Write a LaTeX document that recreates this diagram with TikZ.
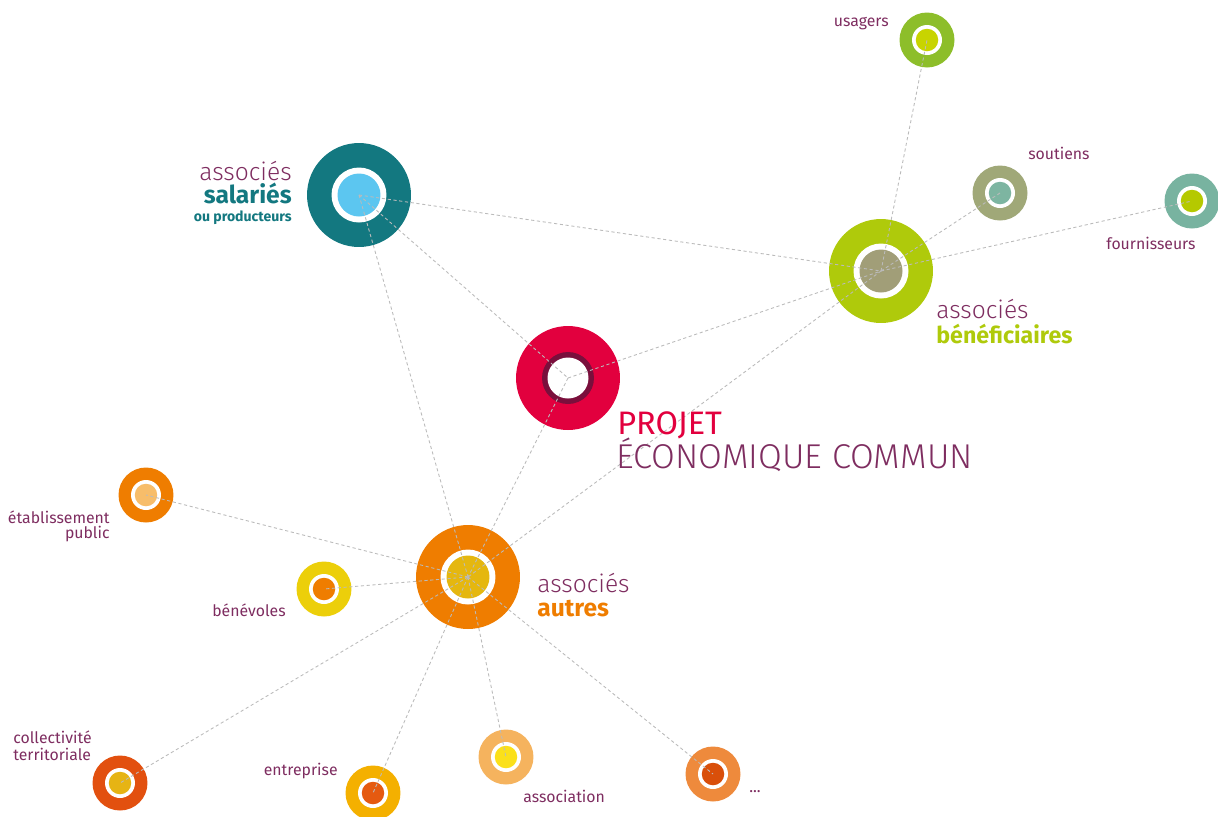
\documentclass[tikz,border=0pt]{standalone}
\usepackage{fontspec}
\setmainfont{Fira Sans}
\IfFontExistsTF{Fira Sans Light}{\newfontfamily\fin{Fira Sans Light}}{\newfontfamily\fin{Fira Sans}}
\definecolor{prune}{HTML}{7E2D60}
\definecolor{tealfonce}{HTML}{137880}
\definecolor{bleuciel}{HTML}{5CC6F0}
\definecolor{rouge}{HTML}{E2003E}
\definecolor{bordeaux}{HTML}{7A0F3C}
\definecolor{vertlime}{HTML}{AFCA0B}
\definecolor{olivegris}{HTML}{A19E78}
\definecolor{orangevif}{HTML}{EF7D00}
\definecolor{ocre}{HTML}{E5B70F}
\definecolor{vertpre}{HTML}{8DBE2A}
\definecolor{jaunevert}{HTML}{C8D400}
\definecolor{olivepale}{HTML}{A0A878}
\definecolor{vertdeau}{HTML}{7DB5A1}
\definecolor{vertmer}{HTML}{78B3A0}
\definecolor{jaunevert2}{HTML}{B5C900}
\definecolor{orangeclair}{HTML}{F7BD6A}
\definecolor{jaune}{HTML}{ECCF0A}
\definecolor{rougeorange}{HTML}{E2500F}
\definecolor{ocre2}{HTML}{E6B414}
\definecolor{jauneor}{HTML}{F4B000}
\definecolor{orangerouge}{HTML}{E55A10}
\definecolor{orangepale}{HTML}{F5B35E}
\definecolor{jaunevif}{HTML}{FBE01A}
\definecolor{orangemoyen}{HTML}{EE8A3C}
\definecolor{orangefonce}{HTML}{D94F0A}
\definecolor{trait}{HTML}{BBBBBB}

\begin{document}
\begin{tikzpicture}[x=0.02cm, y=-0.02cm,
    bulle/.style={circle, inner sep=0pt, outer sep=0pt, minimum size=#1},
    lien/.style={trait, line width=0.5pt, dash pattern=on 1.8pt off 1.5pt},
    etiq/.style={text=prune, inner sep=0pt, font=\fontsize{9}{10}\selectfont}]
        \useasboundingbox (0,0) rectangle (1218,816);

        % Grands cercles
        \foreach \nom/\px/\py/\co/\ci in {salaries/359/195/tealfonce/bleuciel, benef/881/271/vertlime/olivegris, autres/468/577/orangevif/ocre}{
            \node[bulle=2.08cm, fill=\co] (\nom) at (\px,\py) {};
            \node[bulle=1.1cm, fill=white] at (\px,\py) {};
            \node[bulle=0.86cm, fill=\ci] at (\px,\py) {};
        }

        % Projet
        \node[bulle=2.08cm, fill=rouge] (projet) at (568,378) {};
        \node[bulle=1.04cm, fill=bordeaux] at (568,378) {};
        \node[bulle=0.82cm, fill=white] at (568,378) {};

        % Petits cercles
        \foreach \nom/\px/\py/\co/\ci in {usagers/927/40/vertpre/jaunevert, soutiens/1000/193/olivepale/vertdeau, fourn/1192/201/vertmer/jaunevert2, etab/146/495/orangevif/orangeclair, benev/324/589/jaune/orangevif, collect/120/783/rougeorange/ocre2, entrep/373/793/jauneor/orangerouge, assoc/506/757/orangepale/jaunevif, suite/713/774/orangemoyen/orangefonce}{
            \node[bulle=1.1cm, fill=\co] (\nom) at (\px,\py) {};
            \node[bulle=0.6cm, fill=white] at (\px,\py) {};
            \node[bulle=0.45cm, fill=\ci] at (\px,\py) {};
        }

        % Liens
        \foreach \a/\b in {salaries/benef, salaries/projet, salaries/autres, projet/benef, projet/autres, benef/usagers, benef/soutiens, benef/fourn, benef/autres, autres/etab, autres/benev, autres/collect, autres/entrep, autres/assoc, autres/suite}
            \draw[lien] (\a.center) -- (\b.center);

        % Textes
        \node[etiq, anchor=base east, font=\fin\fontsize{14}{16}\selectfont] (tsal1) at (292,180) {associés};
        \node[etiq, anchor=base east, text=tealfonce, font=\bfseries\fontsize{14}{16}\selectfont] (tsal2) at (292,203) {salariés};
        \node[etiq, anchor=base east, text=tealfonce, font=\bfseries\fontsize{8}{9}\selectfont] (tsal3) at (292,221) {ou producteurs};

        \node[etiq, anchor=base west, font=\fin\fontsize{14}{16}\selectfont] (tben1) at (936,318) {associés};
        \node[etiq, anchor=base west, text=vertlime, font=\bfseries\fontsize{13.2}{15}\selectfont] (tben2) at (936,343) {bénéficiaires};

        \node[etiq, anchor=base west, font=\fin\fontsize{14}{16}\selectfont] (taut1) at (537,592) {associés};
        \node[etiq, anchor=base west, text=orangevif, font=\bfseries\fontsize{14}{16}\selectfont] (taut2) at (537,616) {autres};

        \node[etiq, anchor=base west, text=rouge, font=\fontsize{18.5}{22}\selectfont] (tproj1) at (617,434) {PROJET};
        \node[etiq, anchor=base west, font=\fin\fontsize{19.6}{22}\selectfont] (tproj2) at (616,468) {ÉCONOMIQUE COMMUN};

        \node[etiq, anchor=base east] (tusa) at (889,26) {usagers};
        \node[etiq, anchor=base west] (tsou) at (1028,159) {soutiens};
        \node[etiq, anchor=base west] (tfou) at (1106,249) {fournisseurs};
        \node[etiq, anchor=base east] (teta1) at (110,523) {établissement};
        \node[etiq, anchor=base east] (teta2) at (110,538) {public};
        \node[etiq, anchor=base east] (tbev) at (286,616) {bénévoles};
        \node[etiq, anchor=base west] (tcol1) at (13,743) {collectivité};
        \node[etiq, anchor=base west] (tcol2) at (13,760) {territoriale};
        \node[etiq, anchor=base east] (tent) at (338,775) {entreprise};
        \node[etiq, anchor=base west] (tass) at (523,802) {association};
        \node[etiq, anchor=base west] (tsui) at (749,792) {...};
      \end{tikzpicture}
\end{document}
